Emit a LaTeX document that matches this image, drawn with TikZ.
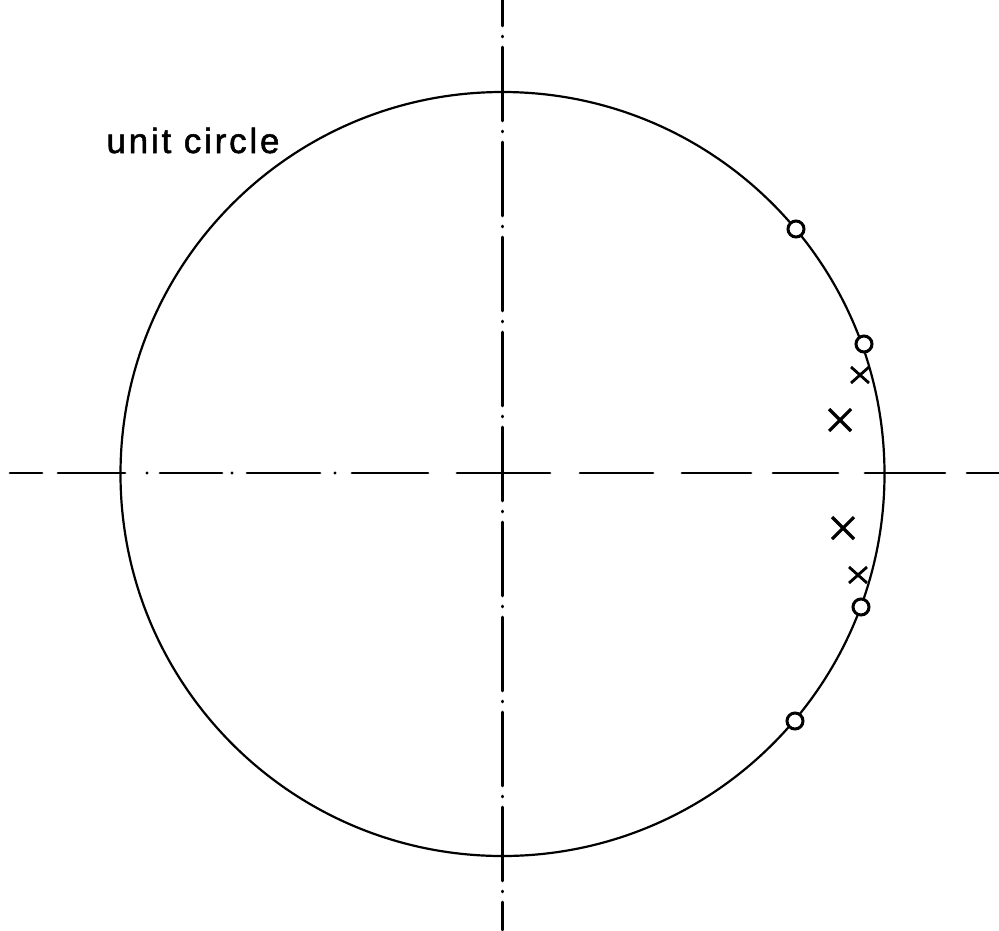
\documentclass[tikz,border=0pt]{standalone}
\usepackage{fontspec}
\setmainfont{Liberation Sans}
\begin{document}
\begin{tikzpicture}[x=1pt,y=-1pt,
  axisline/.style={line width=2.8pt, line cap=round},
  circleline/.style={line width=2.2pt},
  zeromark/.style={circle, draw, line width=3pt, fill=white, minimum size=16pt, inner sep=0pt},
  polebig/.style={line width=3.2pt},
  polesmall/.style={line width=2.8pt}]
\useasboundingbox (0,0) rectangle (999,930);
% unit circle
\draw[circleline] (502.5,474) circle[radius=382];
% vertical axis (dash-dot)
\draw[axisline, dash pattern=on 74pt off 10pt on 1pt off 10pt, dash phase=48pt] (502.5,0) -- (502.5,930);
% horizontal axis
\foreach \a/\b in {10/42,58/125,160/222,247/320,352/428,457/550,580/653,682/751,773/838,865/945,967/999}
  \draw[axisline] (\a,473) -- (\b,473);
\foreach \d in {147,232,335}
  \fill (\d,473) circle[radius=1.7];
% label
\node[font=\fontsize{35}{40}\selectfont\addfontfeature{LetterSpace=8,FakeBold=1.5}, anchor=base] (lbl) at (193,153) {unit circle};
% zeros
\node[zeromark] (z1) at (796,229) {};
\node[zeromark] (z2) at (864,344) {};
\node[zeromark] (z3) at (861,607) {};
\node[zeromark] (z4) at (795,721) {};
% poles
\draw[polebig] (829,409) -- (851,431) (829,431) -- (851,409);
\draw[polebig] (832,517) -- (854,539) (832,539) -- (854,517);
\draw[polesmall] (851,367) -- (869,383) (851,383) -- (869,367);
\draw[polesmall] (849,567) -- (867,583) (849,583) -- (867,567);
\end{tikzpicture}
\end{document}
